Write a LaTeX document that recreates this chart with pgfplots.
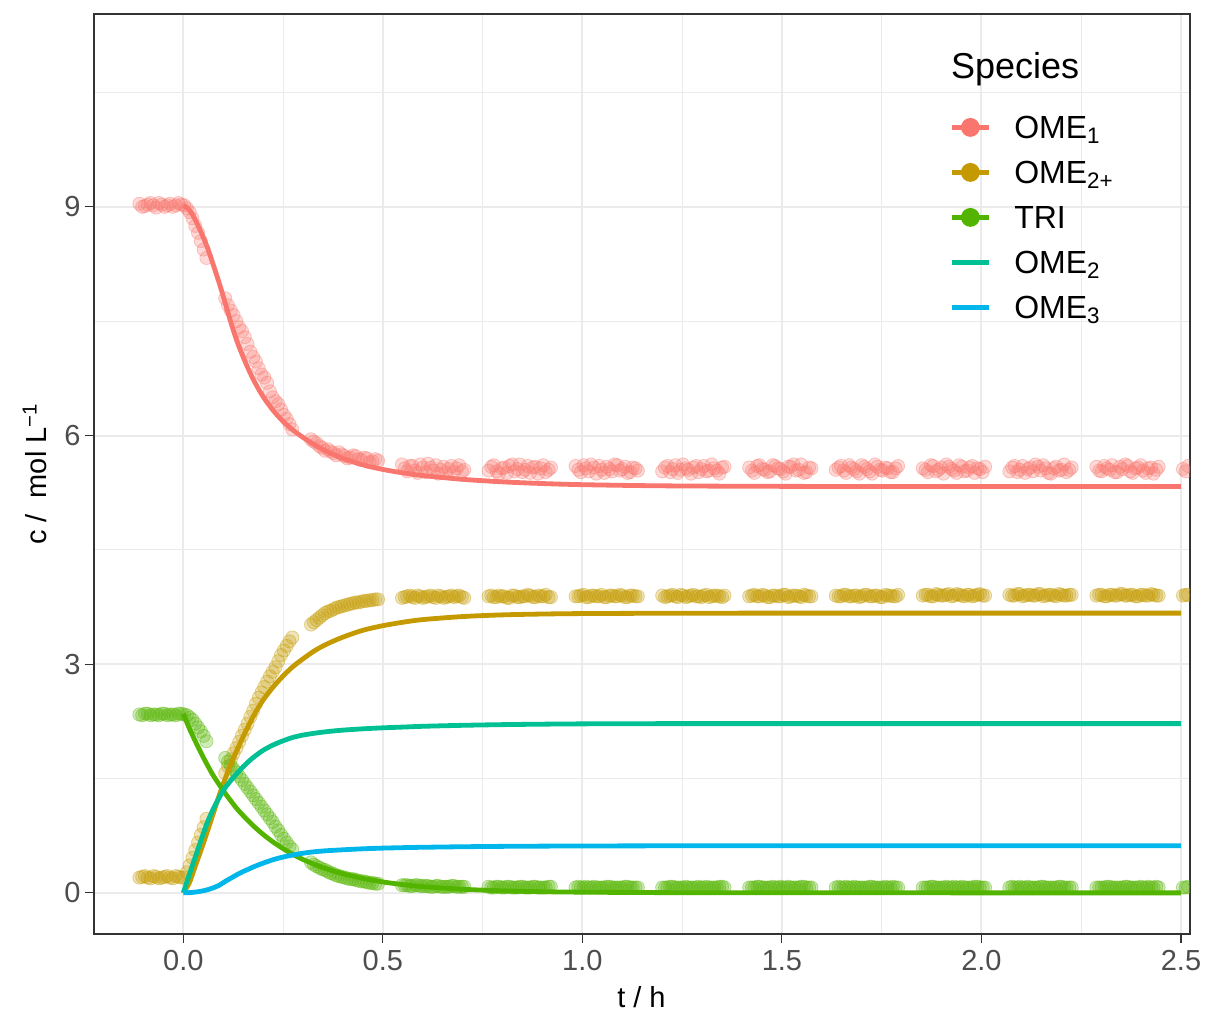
\documentclass[border=0pt]{standalone}
\usepackage{fontspec}
\setmainfont{Liberation Sans}
\usepackage{pgfplots}
\usepackage{pgfplotstable}
\pgfplotsset{compat=1.18}
\definecolor{cA}{HTML}{F8766D}
\definecolor{cB}{HTML}{C49A00}
\definecolor{cC}{HTML}{53B400}
\definecolor{cD}{HTML}{00C094}
\definecolor{cE}{HTML}{00B6EB}
\definecolor{gridgray}{HTML}{EBEBEB}
\definecolor{framegray}{HTML}{333333}
\definecolor{tickgray}{HTML}{4D4D4D}

% measured points: t, OME1, OME2+, TRI
\pgfplotstableread{
t a b c
-0.110 9.04 0.20 2.34
-0.096 9.01 0.22 2.35
-0.082 9.05 0.19 2.33
-0.068 8.99 0.21 2.34
-0.054 9.03 0.20 2.35
-0.040 9.02 0.22 2.33
-0.026 9.00 0.19 2.34
-0.012 9.05 0.21 2.35
0.002 9.02 0.20 2.34
0.016 8.93 0.36 2.30
0.030 8.75 0.56 2.22
0.044 8.55 0.76 2.12
0.058 8.33 0.97 1.99
0.105 7.80 1.57 1.77
0.119 7.64 1.75 1.67
0.133 7.50 1.90 1.58
0.147 7.37 2.06 1.48
0.161 7.20 2.22 1.38
0.175 7.03 2.39 1.28
0.189 6.88 2.56 1.18
0.203 6.76 2.70 1.08
0.217 6.58 2.84 0.98
0.231 6.45 2.96 0.87
0.245 6.34 3.12 0.76
0.259 6.22 3.24 0.66
0.273 6.08 3.35 0.57
0.320 5.95 3.52 0.40
0.334 5.90 3.58 0.35
0.348 5.84 3.64 0.31
0.362 5.82 3.69 0.28
0.376 5.77 3.72 0.25
0.390 5.78 3.75 0.22
0.404 5.73 3.77 0.20
0.418 5.71 3.79 0.18
0.432 5.73 3.81 0.17
0.446 5.68 3.82 0.15
0.460 5.70 3.83 0.14
0.474 5.66 3.84 0.13
0.488 5.67 3.85 0.12
0.548 5.62 3.87 0.10
0.561 5.53 3.89 0.10
0.574 5.60 3.88 0.09
0.587 5.51 3.90 0.10
0.600 5.58 3.87 0.09
0.613 5.63 3.89 0.09
0.626 5.54 3.88 0.08
0.639 5.50 3.90 0.09
0.652 5.59 3.87 0.08
0.665 5.56 3.89 0.08
0.678 5.52 3.88 0.09
0.691 5.61 3.90 0.08
0.704 5.55 3.87 0.08
0.765 5.54 3.89 0.08
0.778 5.61 3.88 0.07
0.791 5.50 3.90 0.08
0.804 5.58 3.89 0.07
0.817 5.60 3.87 0.08
0.830 5.53 3.90 0.07
0.843 5.62 3.88 0.08
0.856 5.55 3.89 0.07
0.869 5.51 3.90 0.07
0.882 5.59 3.88 0.08
0.895 5.57 3.89 0.07
0.908 5.52 3.91 0.07
0.921 5.58 3.88 0.08
0.983 5.60 3.89 0.07
0.996 5.52 3.90 0.07
1.009 5.57 3.88 0.08
1.022 5.62 3.90 0.07
1.035 5.50 3.89 0.07
1.048 5.55 3.91 0.07
1.061 5.59 3.88 0.08
1.074 5.53 3.90 0.07
1.087 5.61 3.89 0.07
1.100 5.56 3.90 0.07
1.113 5.51 3.88 0.08
1.126 5.58 3.90 0.07
1.139 5.54 3.89 0.07
1.200 5.53 3.90 0.07
1.213 5.60 3.89 0.07
1.226 5.56 3.91 0.08
1.239 5.51 3.88 0.07
1.252 5.62 3.90 0.07
1.265 5.55 3.89 0.07
1.278 5.58 3.91 0.07
1.291 5.52 3.89 0.08
1.304 5.60 3.90 0.07
1.317 5.54 3.88 0.07
1.330 5.57 3.90 0.07
1.343 5.50 3.89 0.08
1.356 5.59 3.90 0.07
1.418 5.58 3.89 0.07
1.431 5.51 3.91 0.07
1.444 5.61 3.89 0.08
1.457 5.55 3.90 0.07
1.470 5.53 3.88 0.07
1.483 5.60 3.90 0.07
1.496 5.56 3.89 0.08
1.509 5.50 3.91 0.07
1.522 5.59 3.89 0.07
1.535 5.54 3.90 0.07
1.548 5.62 3.88 0.08
1.561 5.52 3.90 0.07
1.574 5.57 3.89 0.07
1.635 5.55 3.90 0.07
1.648 5.60 3.89 0.07
1.661 5.51 3.91 0.08
1.674 5.58 3.89 0.07
1.687 5.53 3.90 0.07
1.700 5.61 3.89 0.07
1.713 5.56 3.91 0.07
1.726 5.50 3.89 0.08
1.739 5.59 3.90 0.07
1.752 5.54 3.88 0.07
1.765 5.57 3.90 0.07
1.778 5.52 3.89 0.08
1.791 5.60 3.91 0.07
1.853 5.57 3.90 0.07
1.866 5.52 3.91 0.07
1.879 5.60 3.89 0.08
1.892 5.55 3.91 0.07
1.905 5.50 3.90 0.07
1.918 5.59 3.92 0.07
1.931 5.54 3.90 0.08
1.944 5.61 3.91 0.07
1.957 5.53 3.89 0.07
1.970 5.58 3.91 0.07
1.983 5.51 3.90 0.08
1.996 5.56 3.92 0.07
2.009 5.59 3.90 0.07
2.070 5.53 3.91 0.07
2.083 5.60 3.90 0.07
2.096 5.55 3.92 0.08
2.109 5.51 3.90 0.07
2.122 5.58 3.91 0.07
2.135 5.62 3.90 0.07
2.148 5.54 3.92 0.08
2.161 5.57 3.90 0.07
2.174 5.50 3.91 0.07
2.187 5.59 3.89 0.07
2.200 5.55 3.91 0.08
2.213 5.52 3.90 0.07
2.226 5.58 3.91 0.07
2.288 5.59 3.90 0.07
2.301 5.53 3.91 0.07
2.314 5.57 3.89 0.08
2.327 5.61 3.91 0.07
2.340 5.52 3.90 0.07
2.353 5.56 3.92 0.07
2.366 5.60 3.90 0.08
2.379 5.51 3.91 0.07
2.392 5.58 3.89 0.07
2.405 5.54 3.91 0.07
2.418 5.57 3.90 0.08
2.431 5.50 3.91 0.07
2.444 5.59 3.90 0.07
2.505 5.56 3.90 0.07
2.518 5.60 3.91 0.08
}\pts

% second set of measured points, between the first ones
\pgfplotstableread{
t a b c
-0.103 9.00 0.21 2.33
-0.089 9.03 0.20 2.35
-0.075 9.02 0.22 2.34
-0.061 9.05 0.19 2.33
-0.047 9.00 0.21 2.35
-0.033 9.04 0.20 2.34
-0.019 9.02 0.22 2.33
-0.005 9.03 0.20 2.35
0.009 8.98 0.27 2.33
0.023 8.85 0.46 2.27
0.037 8.66 0.66 2.17
0.051 8.44 0.86 2.06
0.112 7.71 1.66 1.72
0.126 7.58 1.83 1.62
0.140 7.42 1.98 1.53
0.154 7.29 2.14 1.43
0.168 7.10 2.31 1.33
0.182 6.97 2.48 1.23
0.196 6.80 2.63 1.13
0.210 6.69 2.77 1.03
0.224 6.50 2.90 0.93
0.238 6.41 3.04 0.82
0.252 6.27 3.18 0.71
0.266 6.15 3.30 0.61
0.327 5.92 3.55 0.37
0.341 5.86 3.61 0.33
0.355 5.80 3.67 0.30
0.369 5.79 3.70 0.26
0.383 5.74 3.74 0.23
0.397 5.75 3.76 0.21
0.411 5.70 3.78 0.19
0.425 5.74 3.80 0.18
0.439 5.69 3.81 0.16
0.453 5.71 3.83 0.15
0.467 5.65 3.84 0.13
0.481 5.69 3.85 0.12
0.555 5.57 3.88 0.10
0.568 5.60 3.90 0.09
0.581 5.54 3.87 0.10
0.594 5.62 3.89 0.09
0.607 5.52 3.88 0.09
0.620 5.58 3.90 0.08
0.633 5.61 3.87 0.09
0.646 5.55 3.89 0.08
0.659 5.51 3.88 0.08
0.672 5.60 3.90 0.09
0.685 5.57 3.89 0.08
0.698 5.53 3.88 0.08
0.772 5.59 3.90 0.07
0.785 5.53 3.88 0.08
0.798 5.57 3.89 0.07
0.811 5.51 3.87 0.08
0.824 5.62 3.90 0.07
0.837 5.56 3.88 0.07
0.850 5.52 3.89 0.08
0.863 5.60 3.91 0.07
0.876 5.58 3.88 0.08
0.889 5.50 3.90 0.07
0.902 5.61 3.89 0.07
0.915 5.55 3.88 0.08
0.990 5.55 3.89 0.08
1.003 5.61 3.91 0.07
1.016 5.53 3.88 0.07
1.029 5.58 3.90 0.08
1.042 5.60 3.89 0.07
1.055 5.51 3.88 0.07
1.068 5.56 3.90 0.08
1.081 5.62 3.89 0.07
1.094 5.54 3.91 0.07
1.107 5.59 3.88 0.08
1.120 5.52 3.90 0.07
1.133 5.57 3.89 0.07
1.207 5.58 3.88 0.07
1.220 5.52 3.90 0.08
1.233 5.61 3.89 0.07
1.246 5.55 3.91 0.07
1.259 5.57 3.88 0.08
1.272 5.50 3.90 0.07
1.285 5.60 3.89 0.07
1.298 5.56 3.88 0.07
1.311 5.53 3.91 0.08
1.324 5.62 3.89 0.07
1.337 5.54 3.90 0.07
1.350 5.58 3.88 0.08
1.425 5.54 3.90 0.07
1.438 5.60 3.89 0.08
1.451 5.56 3.91 0.07
1.464 5.52 3.88 0.07
1.477 5.61 3.90 0.08
1.490 5.57 3.89 0.07
1.503 5.53 3.91 0.07
1.516 5.59 3.88 0.08
1.529 5.62 3.90 0.07
1.542 5.55 3.89 0.07
1.555 5.51 3.91 0.08
1.568 5.58 3.89 0.07
1.642 5.58 3.89 0.08
1.655 5.54 3.91 0.07
1.668 5.61 3.89 0.07
1.681 5.56 3.90 0.08
1.694 5.50 3.88 0.07
1.707 5.59 3.91 0.07
1.720 5.53 3.89 0.08
1.733 5.62 3.90 0.07
1.746 5.55 3.88 0.07
1.759 5.58 3.91 0.08
1.772 5.52 3.90 0.07
1.785 5.57 3.89 0.07
1.860 5.55 3.91 0.07
1.873 5.61 3.89 0.08
1.886 5.53 3.92 0.07
1.899 5.58 3.90 0.07
1.912 5.62 3.91 0.08
1.925 5.56 3.89 0.07
1.938 5.51 3.92 0.07
1.951 5.59 3.90 0.08
1.964 5.54 3.91 0.07
1.977 5.60 3.89 0.07
1.990 5.57 3.91 0.08
2.003 5.52 3.90 0.07
2.077 5.58 3.90 0.08
2.090 5.52 3.92 0.07
2.103 5.60 3.89 0.07
2.116 5.56 3.91 0.08
2.129 5.53 3.90 0.07
2.142 5.59 3.92 0.07
2.155 5.61 3.89 0.08
2.168 5.51 3.91 0.07
2.181 5.57 3.90 0.07
2.194 5.54 3.92 0.08
2.207 5.62 3.90 0.07
2.220 5.55 3.91 0.07
2.295 5.54 3.91 0.07
2.308 5.60 3.89 0.07
2.321 5.55 3.91 0.08
2.334 5.52 3.90 0.07
2.347 5.59 3.92 0.07
2.360 5.62 3.90 0.08
2.373 5.53 3.91 0.07
2.386 5.57 3.89 0.07
2.399 5.61 3.91 0.08
2.412 5.51 3.90 0.07
2.425 5.58 3.92 0.07
2.438 5.55 3.90 0.08
2.512 5.53 3.91 0.07
}\ptsb

% model curves: t, OME1, OME2+, TRI, OME2, OME3
\pgfplotstableread{
t a b c d e
0.000 9.02 0.00 2.35 0.00 0.000
0.015 8.96 0.13 2.16 0.24 0.003
0.030 8.83 0.35 1.99 0.47 0.010
0.045 8.66 0.57 1.83 0.70 0.022
0.060 8.47 0.80 1.68 0.92 0.040
0.075 8.24 1.04 1.54 1.10 0.066
0.090 8.00 1.28 1.42 1.25 0.100
0.105 7.74 1.50 1.305 1.38 0.150
0.120 7.47 1.70 1.20 1.48 0.195
0.135 7.23 1.88 1.10 1.57 0.240
0.150 7.03 2.05 1.014 1.655 0.280
0.165 6.85 2.21 0.933 1.73 0.315
0.180 6.69 2.36 0.858 1.795 0.350
0.200 6.51 2.53 0.767 1.87 0.390
0.225 6.33 2.70 0.667 1.94 0.435
0.250 6.185 2.845 0.580 1.995 0.470
0.275 6.07 2.97 0.504 2.04 0.497
0.300 5.975 3.07 0.438 2.07 0.520
0.330 5.875 3.18 0.370 2.095 0.540
0.360 5.79 3.265 0.313 2.115 0.553
0.400 5.70 3.355 0.250 2.135 0.565
0.450 5.615 3.445 0.189 2.152 0.578
0.500 5.555 3.505 0.143 2.165 0.587
0.550 5.51 3.55 0.108 2.175 0.593
0.600 5.475 3.585 0.082 2.185 0.598
0.700 5.425 3.625 0.047 2.198 0.605
0.800 5.392 3.647 0.027 2.207 0.610
0.900 5.37 3.658 0.015 2.213 0.613
1.000 5.355 3.664 0.009 2.217 0.615
1.200 5.34 3.668 0.003 2.22 0.617
1.500 5.333 3.67 0.001 2.22 0.618
2.000 5.33 3.67 0.000 2.22 0.618
2.500 5.33 3.67 0.000 2.22 0.618
}\lns

\begin{document}
\begin{tikzpicture}
\begin{axis}[
  name=main,
  scale only axis,
  width=548pt, height=460pt,
  xmin=-0.2238, xmax=2.5226,
  ymin=-0.54, ymax=11.53,
  xtick={0,0.5,1,1.5,2,2.5},
  xticklabels={0.0,0.5,1.0,1.5,2.0,2.5},
  ytick={0,3,6,9},
  yticklabels={0,3,6,9},
  minor xtick={0.25,0.75,1.25,1.75,2.25},
  minor ytick={1.5,4.5,7.5,10.5},
  grid=both,
  major grid style={draw=gridgray, line width=1pt},
  minor grid style={draw=gridgray, line width=0.5pt},
  axis line style={draw=framegray, line width=0.7pt},
  tick align=outside,
  xtick pos=bottom, ytick pos=left,
  major tick length=4.5pt, minor tick length=0pt,
  every tick/.style={draw=framegray, line width=0.55pt},
  /pgf/number format/assume math mode=true,
  tick label style={font=\fontsize{14.5}{17}\selectfont, text=tickgray},
  xticklabel style={anchor=base, inner sep=0pt, yshift=-13.5pt},
  yticklabel style={anchor=east, inner sep=0pt, xshift=-2pt},
  xlabel={t / h},
  ylabel={c /\ \ mol L\textsuperscript{−1}},
  label style={font=\fontsize{14.5}{17}\selectfont, text=black},
  xlabel style={at={(axis description cs:0.4995,-0.0799)}, anchor=base, inner sep=0pt},
  ylabel style={at={(axis description cs:-0.0429,0.5)}, anchor=base, inner sep=0pt},
  clip marker paths=true,
  legend cell align=left,
  legend image code/.code={
    \draw[mark repeat=2,mark phase=2,#1] plot coordinates {(0pt,0pt) (9.25pt,0pt) (18.5pt,0pt)};
  },
  legend style={at={(rel axis cs:0.7802,0.8939)}, anchor=north west,
    draw=none, fill=none, inner sep=0pt, row sep=7.1pt, column sep=10.5pt,
    font=\fontsize{16}{19}\selectfont,
    nodes={inner sep=1pt, text height=12.4pt, text depth=1pt}},
  pts/.style={only marks, mark=*, mark size=3.3pt, color=#1, forget plot,
    mark options={fill opacity=0.27, draw opacity=0.4, line width=0.4pt}},
]
\addplot[pts=cA] table[x=t,y=a]{\pts};
\addplot[pts=cA] table[x=t,y=a]{\ptsb};
\addplot[pts=cB] table[x=t,y=b]{\pts};
\addplot[pts=cB] table[x=t,y=b]{\ptsb};
\addplot[pts=cC] table[x=t,y=c]{\pts};
\addplot[pts=cC] table[x=t,y=c]{\ptsb};

\addplot[cA, line width=2.4pt, smooth, forget plot] table[x=t,y=a]{\lns};
\addplot[cB, line width=2.4pt, smooth, forget plot] table[x=t,y=b]{\lns};
\addplot[cC, line width=2.4pt, smooth, forget plot] table[x=t,y=c]{\lns};
\addplot[cD, line width=2.4pt, smooth, forget plot] table[x=t,y=d]{\lns};
\addplot[cE, line width=2.4pt, smooth, forget plot] table[x=t,y=e]{\lns};

\addlegendimage{cA, line width=2.4pt, mark=*, mark size=3.5pt}
\addlegendentry{OME\textsubscript{1}}
\addlegendimage{cB, line width=2.4pt, mark=*, mark size=3.5pt}
\addlegendentry{OME\textsubscript{2+}}
\addlegendimage{cC, line width=2.4pt, mark=*, mark size=3.5pt}
\addlegendentry{TRI}
\addlegendimage{cD, line width=2.4pt}
\addlegendentry{OME\textsubscript{2}}
\addlegendimage{cE, line width=2.4pt}
\addlegendentry{OME\textsubscript{3}}

\node[anchor=base west, inner sep=0pt, font=\fontsize{18}{21}\selectfont]
  at (rel axis cs:0.7817,0.9304) {Species};
\end{axis}
\pgfresetboundingbox
\path ([xshift=-47pt,yshift=-40pt]main.south west) rectangle ([xshift=8.5pt,yshift=7pt]main.north east);
\end{tikzpicture}
\end{document}
